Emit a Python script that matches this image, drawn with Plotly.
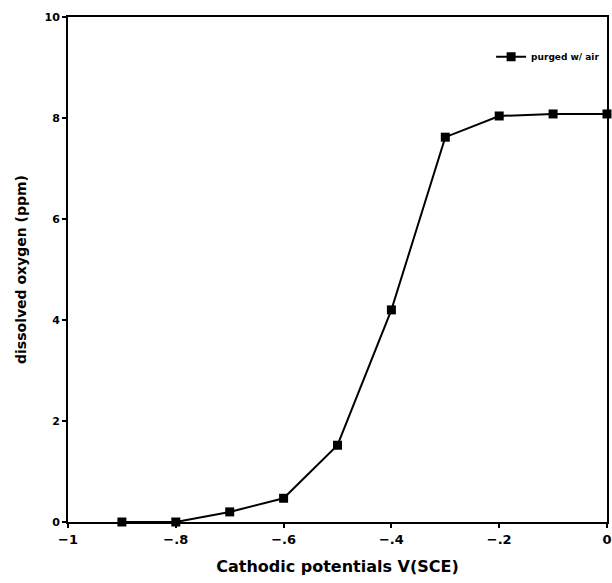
import plotly.graph_objects as go

potential = [-0.9, -0.8, -0.7, -0.6, -0.5, -0.4, -0.3, -0.2, -0.1, 0.0]
oxygen = [0.0, 0.0, 0.2, 0.47, 1.52, 4.2, 7.62, 8.04, 8.08, 8.08]

x_ticks = [-1, -0.8, -0.6, -0.4, -0.2, 0]
x_labels = ['\u22121', '\u2212.8', '\u2212.6', '\u2212.4', '\u2212.2', '0']
y_ticks = [0, 2, 4, 6, 8, 10]

font_name = 'DejaVu Sans'

fig = go.Figure([
    go.Scatter(name='purged w/ air', x=potential, y=oxygen, mode='lines+markers',
               cliponaxis=False,
               line=dict(color='black', width=2),
               marker=dict(symbol='square', size=9, color='black'))
])

fig.update_xaxes(range=[-1, 0], tickvals=x_ticks, ticktext=x_labels, automargin=False,
                 showline=True, linecolor='black', linewidth=2, mirror=True,
                 ticks='outside', ticklen=4, tickwidth=2, tickcolor='black',
                 showgrid=False, zeroline=False,
                 tickfont=dict(family=font_name, size=13, color='black', weight='bold'),
                 title=dict(text='Cathodic potentials V(SCE)',
                            font=dict(family=font_name, size=16, color='black', weight='bold')))
fig.update_yaxes(range=[0, 10], tickvals=y_ticks, automargin=False,
                 showline=True, linecolor='black', linewidth=2, mirror=True,
                 ticks='outside', ticklen=4, tickwidth=2, tickcolor='black',
                 showgrid=False, zeroline=False,
                 tickfont=dict(family=font_name, size=11, color='black', weight='bold'),
                 title=dict(text='dissolved oxygen (ppm)',
                            font=dict(family=font_name, size=14, color='black', weight='bold')))

fig.update_layout(width=612, height=583, plot_bgcolor='white', paper_bgcolor='white',
                  margin=dict(l=68, r=5, t=17, b=61),
                  showlegend=True,
                  legend=dict(x=0.785, y=0.95, xanchor='left', yanchor='top',
                              bgcolor='rgba(0,0,0,0)', itemwidth=30,
                              font=dict(family=font_name, size=9, color='black', weight='bold')))

# page body has a default margin, drop it so the figure fills the window
fig.write_html("out.html", config={'displayModeBar': False},
               post_script="document.body.style.margin='0';")
